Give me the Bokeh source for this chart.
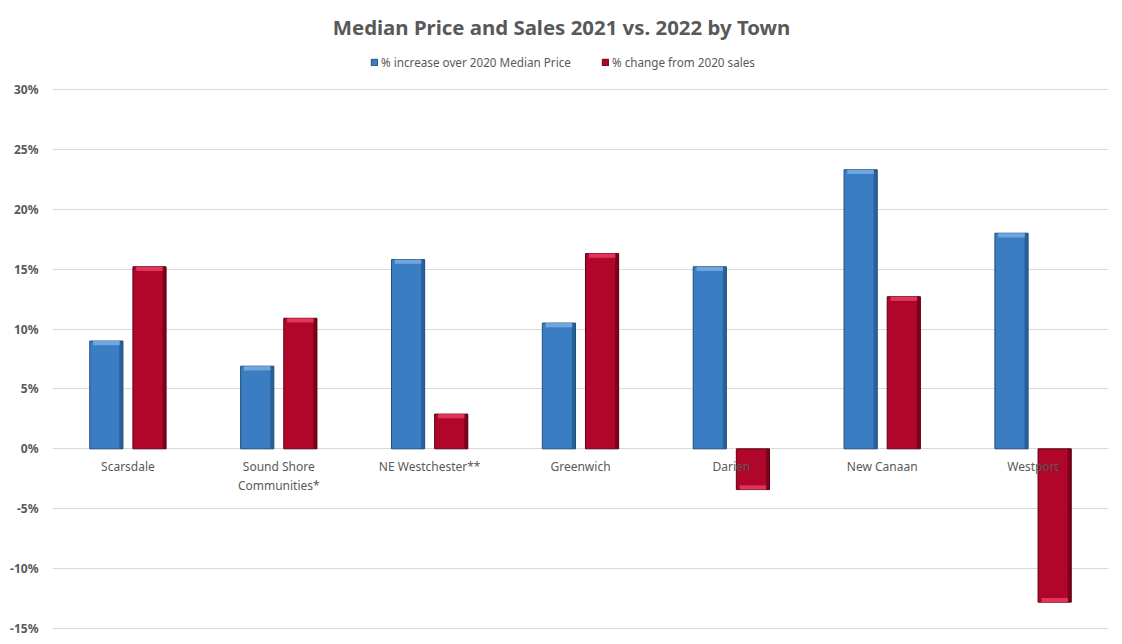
from bokeh.plotting import figure
from bokeh.models import (Range1d, FactorRange, FixedTicker, CustomJSTickFormatter,
                          Legend, LegendItem, ColumnDataSource, Label)
from bokeh.transform import dodge
from bokeh.core.properties import value
from bokeh.embed import file_html
from bokeh.resources import INLINE

# ---------------- data ----------------
towns = ["Scarsdale", "Sound Shore\nCommunities*", "NE Westchester**", "Greenwich",
         "Darien", "New Canaan", "Westport"]
price_increase = [9.0, 6.9, 15.8, 10.5, 15.2, 23.3, 18.0]
sales_change = [15.2, 10.9, 2.9, 16.3, -3.4, 12.7, -12.8]
y_ticks = [-15, -10, -5, 0, 5, 10, 15, 20, 25, 30]
title_text = "Median Price and Sales 2021 vs. 2022 by Town"
series_names = ["% increase over 2020 Median Price", "% change from 2020 sales"]

# ---------------- layout ----------------
W, H = 1114, 636
FRAME_L, FRAME_R = 52, 1108
px_top_30 = 89      # figure px where 30% sits
px_bot_m15 = 628    # figure px where -15% sits
ppu = (px_bot_m15 - px_top_30) / 45.0
y_start = -15 - (H - px_bot_m15) / ppu
y_end = 30 + px_top_30 / ppu
cat_px = (FRAME_R - FRAME_L) / len(towns)

FONT = "Noto Sans"
GRAY = "#595959"
BLUE = "#3A7DC2"
BLUE_DARK = "#1F4E7E"
BLUE_LIGHT = "#6FA6DE"
RED = "#B0062A"
RED_DARK = "#5E0012"
RED_LIGHT = "#E0345A"

p = figure(width=W, height=H, output_backend="svg", toolbar_location=None,
           x_range=FactorRange(factors=towns, range_padding=0),
           y_range=Range1d(y_start, y_end),
           min_border_left=FRAME_L, min_border_right=W - FRAME_R,
           min_border_top=0, min_border_bottom=0)
p.xaxis.visible = False
p.outline_line_color = None
p.background_fill_color = "white"
p.border_fill_color = "white"
p.xgrid.grid_line_color = None
p.ygrid.grid_line_color = "#D9D9D9"
p.ygrid.grid_line_width = 1
p.yaxis.ticker = FixedTicker(ticks=y_ticks)
p.yaxis.formatter = CustomJSTickFormatter(code="return tick + '%';")
p.yaxis.axis_line_color = None
p.yaxis.major_tick_line_color = None
p.yaxis.minor_tick_line_color = None
p.yaxis.major_label_text_font = FONT
p.yaxis.major_label_text_font_size = "12px"
p.yaxis.major_label_text_font_style = "bold"
p.yaxis.major_label_text_color = GRAY
p.yaxis.major_label_standoff = 8

src = ColumnDataSource(dict(town=towns, price=price_increase, sales=sales_change,
                            zero=[0] * len(towns),
                            label_y=[0] * len(towns)))

BW = 0.22
OFF = 0.143
# blue bars
rb = p.vbar(x=dodge("town", -OFF, range=p.x_range), top="price", bottom="zero", width=BW,
            source=src, fill_color=BLUE, line_color=BLUE_DARK, line_width=1)
p.vbar(x=dodge("town", -OFF + BW / 2 - 0.012, range=p.x_range), top="price", bottom="zero",
       width=0.024, source=src, fill_color=BLUE_DARK, fill_alpha=0.6, line_color=None)
# red bars
rr = p.vbar(x=dodge("town", OFF, range=p.x_range), top="sales", bottom="zero", width=BW,
            source=src, fill_color=RED, line_color=RED_DARK, line_width=1)
p.vbar(x=dodge("town", OFF + BW / 2 - 0.012, range=p.x_range), top="sales", bottom="zero",
       width=0.024, source=src, fill_color=RED_DARK, fill_alpha=0.6, line_color=None)

# light bevel caps on the outer end of each bar
cap_b = ColumnDataSource(dict(town=towns,
                              top=[v for v in price_increase],
                              bot=[v - 0.35 if v >= 0 else v + 0.35 for v in price_increase]))
cap_r = ColumnDataSource(dict(town=towns,
                              top=[v for v in sales_change],
                              bot=[v - 0.35 if v >= 0 else v + 0.35 for v in sales_change]))
p.vbar(x=dodge("town", -OFF, range=p.x_range), top="top", bottom="bot", width=BW * 0.8,
       source=cap_b, fill_color=BLUE_LIGHT, line_color=None)
p.vbar(x=dodge("town", OFF, range=p.x_range), top="top", bottom="bot", width=BW * 0.8,
       source=cap_r, fill_color=RED_LIGHT, line_color=None)

# category labels (drawn over the bars, as in reference)
p.text(x="town", y="label_y", text="town", source=src, text_align="center",
       text_baseline="top", y_offset=9, text_font=value(FONT), text_font_size="12px",
       text_color=GRAY, text_line_height=1.12)

# legend
legend = Legend(items=[LegendItem(label=series_names[0], renderers=[rb]),
                       LegendItem(label=series_names[1], renderers=[rr])],
                orientation="horizontal", location=(318, 566),
                label_text_font=FONT, label_text_font_size="11.7px", label_text_color=GRAY,
                glyph_width=8, glyph_height=8, label_standoff=3, spacing=30,
                padding=0, margin=0, border_line_color=None, background_fill_alpha=0,
                label_height=14)
p.add_layout(legend)

# title (centered on the full chart width)
p.add_layout(Label(x=3.5 - ((FRAME_L + FRAME_R) / 2 - 561) / cat_px,
                   y=30 + (px_top_30 - 26) / ppu, text=title_text,
                   text_align="center", text_baseline="middle", text_font=FONT,
                   text_font_size="20.4px", text_font_style="bold", text_color=GRAY))

open("out.html", "w").write(file_html(p, INLINE))
